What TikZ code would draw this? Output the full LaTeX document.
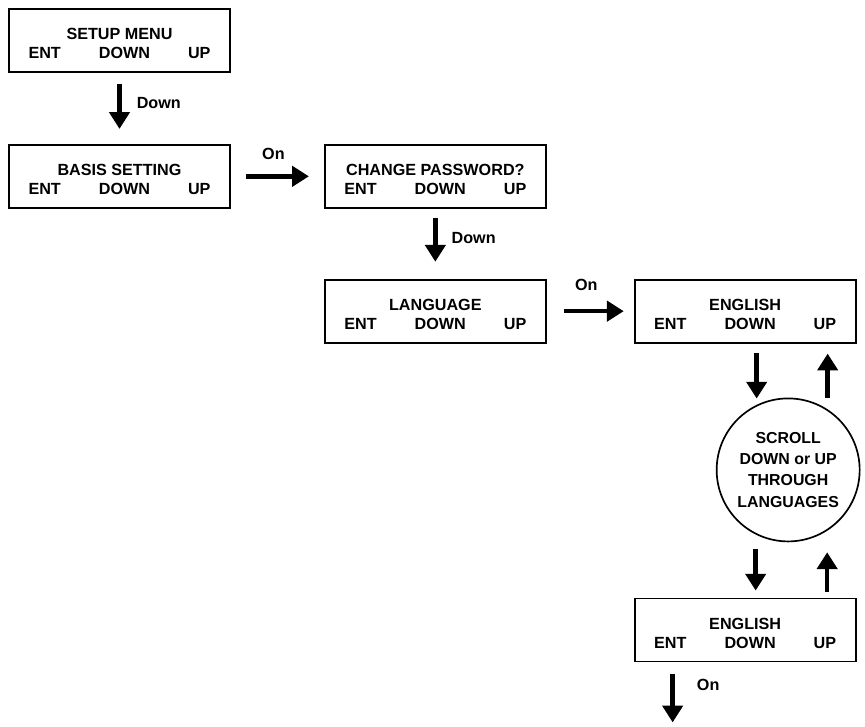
\documentclass[tikz,border=0pt]{standalone}
\usepackage{fontspec}
\setmainfont{Liberation Sans}
\usetikzlibrary{arrows.meta, positioning}

\newcommand{\keyrow}{\makebox[4.55cm]{ENT\hfill DOWN\hfill UP}}
\newcommand{\screentext}[1]{\rule{0pt}{0.45cm}#1\\ \keyrow}

\begin{document}
\begin{tikzpicture}[
    node distance=1.75cm,
    screen/.style={rectangle, draw, line width=1.3pt, align=center, minimum width=5.525cm, minimum height=1.575cm, inner sep=0pt, font=\fontsize{11.5}{13.5}\selectfont\bfseries},
    scroll/.style={circle, draw, line width=1.2pt, align=center, minimum size=3.575cm, inner sep=0pt, font=\fontsize{11.3}{15}\selectfont\bfseries},
    arrow/.style={-{Triangle[length=4.2mm, width=5mm]}, line width=3.3pt},
    label/.style={inner sep=0pt, font=\fontsize{11.5}{13}\selectfont\bfseries}
]
\useasboundingbox (0,0) rectangle (21.625,-18.15);

\node[screen] (setup) at (2.9875,-1.0125) {\screentext{SETUP MENU}};
\node[screen, below=1.775cm of setup] (basis) {\screentext{BASIS SETTING}};
\node[screen, right=2.325cm of basis] (password) {\screentext{CHANGE PASSWORD?}};
\node[screen, below=of password] (language) {\screentext{LANGUAGE}};
\node[screen, right=2.175cm of language] (english) {\screentext{ENGLISH}};
\node[scroll, below=1.35cm of english, xshift=1.075cm] (scrolling) {SCROLL\\ DOWN or UP\\ THROUGH\\ LANGUAGES};
\node[screen, below=6.35cm of english] (english2) {\screentext{ENGLISH}};

\coordinate (d1) at ([xshift=0.2875cm]english.south);
\coordinate (u1) at ([xshift=2.0625cm]english.south);
\coordinate (d2) at ([xshift=0.2625cm]english2.north);
\coordinate (u2) at ([xshift=2.05cm]english2.north);
\coordinate (o1) at ([xshift=-1.8125cm]english2.south);
\coordinate[below=1.5cm of o1] (exit);

\draw[arrow, shorten <=0.275cm, shorten >=0.375cm] (setup) -- node[label, right=0.375cm, yshift=0.14cm]{Down} (basis);
\draw[arrow, shorten <=0.375cm, shorten >=0.375cm] (basis) -- node[label, above=0.35cm, xshift=-0.1cm]{On} (password);
\draw[arrow, shorten <=0.225cm, shorten >=0.425cm] (password) -- node[label, right=0.35cm, yshift=0.15cm]{Down} (language);
\draw[arrow, shorten <=0.425cm, shorten >=0.25cm] (language) -- node[label, above=0.45cm, xshift=-0.1cm]{On} (english);
\draw[arrow, shorten <=0.225cm, shorten >=-0.025cm] (d1) -- (d1 |- scrolling.north);
\draw[arrow, shorten >=0.25cm] (u1 |- scrolling.north) -- (u1);
\draw[arrow, shorten <=0.175cm, shorten >=0.175cm] (d2 |- scrolling.south) -- (d2);
\draw[arrow, shorten <=0.15cm, shorten >=0.25cm] (u2) -- (u2 |- scrolling.south);
\draw[arrow, shorten <=0.3cm] (o1) -- node[label, right=0.55cm, yshift=0.175cm]{On} (exit);

\end{tikzpicture}
\end{document}
